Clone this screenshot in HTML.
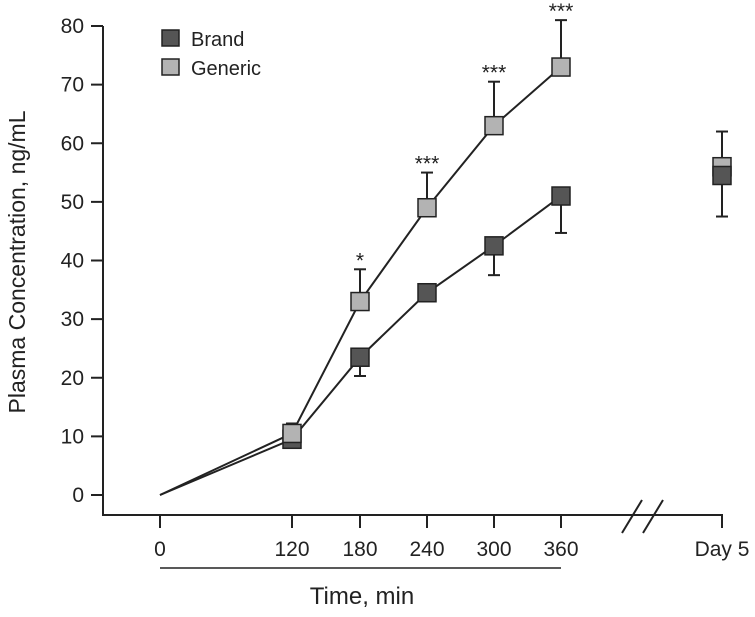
<!DOCTYPE html>
<html><head><meta charset="utf-8"><style>
body{margin:0;background:#fff}
svg text{font-family:"Liberation Sans",sans-serif;fill:#222}
</style></head><body>
<svg width="755" height="612">
<g id="axes"></g><g id="plot"></g>
</svg>
<script>
const categories=["0","120","180","240","300","360","Day 5"];
const brandValues=[0,9.5,23.5,34.5,42.5,51,54.5];
const brandLowErr=[0,8.8,20.3,34.5,37.5,44.7,47.5];
const genericValues=[0,10.5,33,49,63,73,56];
const genericHighErr=[0,12.2,38.5,55,70.5,81,62];
const significance=["","","*","***","***","***",""];
const yTicks=[0,10,20,30,40,50,60,70,80];
const xPos=[160,292,360,427,494,561,722];
function y(v){return 495-v*(469/80);}
const NS="http://www.w3.org/2000/svg";
function mk(parent,tag,attrs,name){const e=document.createElementNS(NS,tag);for(const k in attrs)e.setAttribute(k,attrs[k]);


parent.appendChild(e);return e;}
const ax=document.getElementById('axes'),pl=document.getElementById('plot');
const st={stroke:"#222","stroke-width":2,fill:"none"};
mk(ax,'line',{x1:103,y1:26,x2:103,y2:515,...st},'y-axis');
mk(ax,'line',{x1:102,y1:515,x2:723,y2:515,...st},'x-axis');
mk(ax,'rect',{x:628,y:505,width:34,height:20,fill:"#fff"},'axis-break-gap');
mk(ax,'line',{x1:622,y1:533,x2:642,y2:500,...st},'axis-break-mark');
mk(ax,'line',{x1:643,y1:533,x2:663,y2:500,...st},'axis-break-mark');
mk(ax,'line',{x1:627,y1:515,x2:722,y2:515,...st},'x-axis-after-break');
yTicks.forEach(t=>{mk(ax,'line',{x1:91,y1:y(t),x2:103,y2:y(t),...st},'y-tick');
const tx=mk(ax,'text',{x:84,y:y(t)+7,"text-anchor":"end","font-size":21},'y-tick-label');tx.textContent=t;});
categories.forEach((c,i)=>{mk(ax,'line',{x1:xPos[i],y1:515,x2:xPos[i],y2:528,...st},'x-tick');
const tx=mk(ax,'text',{x:i==6?722:xPos[i],y:556,"text-anchor":"middle","font-size":21},'x-tick-label');tx.textContent=c;});
mk(ax,'line',{x1:160,y1:568,x2:561,y2:568,stroke:"#222","stroke-width":1.5},'time-range-underline');
let t=mk(ax,'text',{x:362,y:604,"text-anchor":"middle","font-size":24},'x-axis-title');t.textContent="Time, min";
t=mk(ax,'text',{x:0,y:0,"text-anchor":"middle","font-size":23,transform:"translate(25,262) rotate(-90)"},'y-axis-title');t.textContent="Plasma Concentration, ng/mL";
function pts(v){return v.slice(0,6).map((d,i)=>xPos[i]+","+y(d)).join(" ");}
mk(pl,'polyline',{points:pts(brandValues),stroke:"#222","stroke-width":2,fill:"none"},'brand-line');
mk(pl,'polyline',{points:pts(genericValues),stroke:"#222","stroke-width":2,fill:"none"},'generic-line');
for(let i=1;i<categories.length;i++){
 mk(pl,'line',{x1:xPos[i],y1:y(brandValues[i]),x2:xPos[i],y2:y(brandLowErr[i]),...st},'brand-error-bar');
 mk(pl,'line',{x1:xPos[i]-6,y1:y(brandLowErr[i]),x2:xPos[i]+6,y2:y(brandLowErr[i]),...st},'brand-error-cap');
 mk(pl,'line',{x1:xPos[i],y1:y(genericValues[i]),x2:xPos[i],y2:y(genericHighErr[i]),...st},'generic-error-bar');
 mk(pl,'line',{x1:xPos[i]-6,y1:y(genericHighErr[i]),x2:xPos[i]+6,y2:y(genericHighErr[i]),...st},'generic-error-cap');
}
for(let i=1;i<categories.length;i++){
 const b=()=>mk(pl,'rect',{x:xPos[i]-9,y:y(brandValues[i])-9,width:18,height:18,fill:"#555",stroke:"#222","stroke-width":1.5},'brand-marker');
 const g=()=>mk(pl,'rect',{x:xPos[i]-9,y:y(genericValues[i])-9,width:18,height:18,fill:"#b3b3b3",stroke:"#222","stroke-width":1.5},'generic-marker');
 if(i==6){g();b();}else{b();g();}
 if(significance[i]){const s=mk(pl,'text',{x:xPos[i],y:y(genericHighErr[i])-2,"text-anchor":"middle","font-size":21},'significance-marker');s.textContent=significance[i];}
}
mk(pl,'rect',{x:162,y:30,width:17,height:16,fill:"#555",stroke:"#222","stroke-width":1.5},'legend-brand-swatch');
t=mk(pl,'text',{x:191,y:46,"font-size":20},'legend-brand-label');t.textContent="Brand";
mk(pl,'rect',{x:162,y:59,width:17,height:16,fill:"#b3b3b3",stroke:"#222","stroke-width":1.5},'legend-generic-swatch');
t=mk(pl,'text',{x:191,y:75,"font-size":20},'legend-generic-label');t.textContent="Generic";
</script>
</body></html>
